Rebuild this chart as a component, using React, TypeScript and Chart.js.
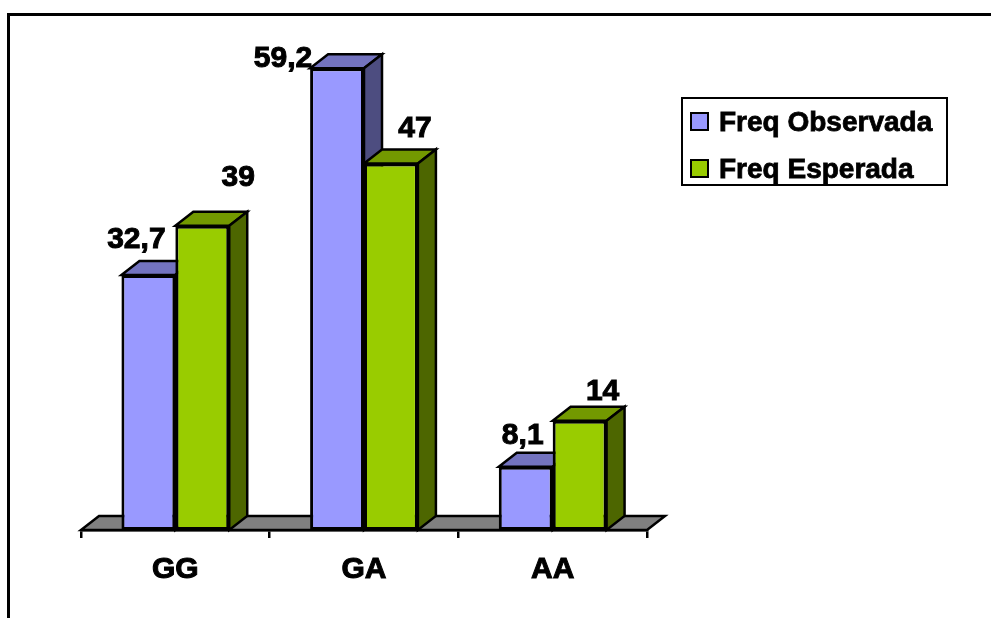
import React, { useEffect, useRef } from 'react';
import { Chart, registerables } from 'chart.js';

Chart.register(...registerables);

// ---- data ----
const categories = ['GG', 'GA', 'AA'];
const seriesNames = ['Freq Observada', 'Freq Esperada'];
const observada = [32.7, 59.2, 8.1];
const esperada = [39, 47, 14];
const yMin = 0;
const yMax = 60;

// ---- styles ----
const FONT = '"Liberation Sans", Arial, sans-serif';
const FRONT = ['#9999FF', '#99CC00'];
const TOP = ['#7373BF', '#739900'];
const SIDE = ['#4D4D80', '#4D6600'];
const FLOOR = '#808080';
const DEPTH_X = 18;
const DEPTH_Y = 14;
const EDGE = 2.5;
// label nudges relative to top-front-centre of each bar [dataset][category]
const labelOffsets = [
  [[-12, -36], [-54, -11], [-3, -32]],
  [[36, -49], [24, -36], [23, -30]],
];

const fmt = (v: number) => String(v).replace('.', ',');

const poly = (ctx: CanvasRenderingContext2D, pts: number[][], fill: string) => {
  ctx.beginPath();
  ctx.moveTo(pts[0][0], pts[0][1]);
  for (let k = 1; k < pts.length; k++) ctx.lineTo(pts[k][0], pts[k][1]);
  ctx.closePath();
  ctx.fillStyle = fill;
  ctx.fill();
  ctx.stroke();
};

const boldText = (ctx: CanvasRenderingContext2D, s: string, x: number, y: number) => {
  ctx.fillText(s, x, y);
  ctx.strokeText(s, x, y);
};

const threeD = {
  id: 'threeD',
  beforeDatasetsDraw(chart: any) {
    const ctx: CanvasRenderingContext2D = chart.ctx;
    const a = chart.chartArea;
    ctx.save();
    ctx.strokeStyle = '#000';
    ctx.lineWidth = EDGE;
    ctx.lineJoin = 'miter';
    // floor
    poly(ctx, [
      [a.left, a.bottom],
      [a.right, a.bottom],
      [a.right + DEPTH_X, a.bottom - DEPTH_Y],
      [a.left + DEPTH_X, a.bottom - DEPTH_Y],
    ], FLOOR);
    // top & side faces
    for (let i = 0; i < categories.length; i++) {
      for (let d = 0; d < chart.data.datasets.length; d++) {
        const el = chart.getDatasetMeta(d).data[i] as any;
        const l = el.x - el.width / 2;
        const r = el.x + el.width / 2;
        const t = el.y;
        const b = el.base;
        poly(ctx, [[l, t], [r, t], [r + DEPTH_X, t - DEPTH_Y], [l + DEPTH_X, t - DEPTH_Y]], TOP[d]);
        poly(ctx, [[r, t], [r + DEPTH_X, t - DEPTH_Y], [r + DEPTH_X, b - DEPTH_Y], [r, b]], SIDE[d]);
      }
    }
    ctx.restore();
  },
  afterDatasetsDraw(chart: any) {
    const ctx: CanvasRenderingContext2D = chart.ctx;
    ctx.save();
    // value labels
    ctx.fillStyle = '#000';
    ctx.strokeStyle = '#000';
    ctx.lineWidth = 1;
    ctx.font = `bold 30px ${FONT}`;
    ctx.textAlign = 'center';
    ctx.textBaseline = 'middle';
    chart.data.datasets.forEach((ds: any, d: number) => {
      chart.getDatasetMeta(d).data.forEach((el: any, i: number) => {
        const [ox, oy] = labelOffsets[d][i];
        boldText(ctx, fmt(ds.data[i]), el.x + ox, el.y + oy + 1);
      });
    });
    // legend
    ctx.lineWidth = 2;
    ctx.fillStyle = '#fff';
    ctx.fillRect(682, 98, 265, 87);
    ctx.strokeRect(682, 98, 265, 87);
    ctx.font = `bold 28px ${FONT}`;
    ctx.textAlign = 'left';
    ctx.textBaseline = 'alphabetic';
    seriesNames.forEach((name, d) => {
      const y = 113 + d * 47;
      ctx.fillStyle = FRONT[d];
      ctx.fillRect(691, y, 17, 17);
      ctx.lineWidth = 2;
      ctx.strokeRect(691, y, 17, 17);
      ctx.fillStyle = '#000';
      ctx.lineWidth = 0.8;
      boldText(ctx, name, 719, y + 18);
    });
    // outer frame (top and left visible)
    ctx.lineWidth = 3;
    ctx.beginPath();
    ctx.moveTo(8.5, chart.height);
    ctx.lineTo(8.5, 14.5);
    ctx.lineTo(chart.width, 14.5);
    ctx.stroke();
    ctx.restore();
  },
};

export default function App() {
  const ref = useRef<HTMLCanvasElement>(null);
  useEffect(() => {
    if (!ref.current) return;
    const chart = new Chart(ref.current, {
      type: 'bar',
      data: {
        labels: categories,
        datasets: [
          { label: seriesNames[0], data: observada, backgroundColor: FRONT[0] },
          { label: seriesNames[1], data: esperada, backgroundColor: FRONT[1] },
        ],
      },
      options: {
        responsive: false,
        animation: false,
        devicePixelRatio: 1,
        layout: { padding: { left: 81, right: 344, top: 62, bottom: 38 } },
        datasets: {
          bar: {
            categoryPercentage: 108 / 189,
            barPercentage: 1,
            borderColor: '#000',
            borderWidth: 3,
            borderSkipped: false,
          },
        } as any,
        plugins: { legend: { display: false }, tooltip: { enabled: false } },
        scales: {
          x: {
            offset: true,
            grid: {
              display: true,
              offset: true,
              drawOnChartArea: false,
              drawTicks: true,
              tickLength: 8,
              color: '#000',
              lineWidth: 2.5,
            },
            border: { display: true, color: '#000', width: 2.5 },
            ticks: {
              color: '#000',
              font: { family: FONT, size: 30, weight: 'bold' },
              padding: 14,
              maxRotation: 0,
              textStrokeColor: '#000',
              textStrokeWidth: 1,
            },
            afterFit: (s: any) => { s.height = 50; },
          } as any,
          y: {
            display: false,
            min: yMin,
            max: yMax,
          },
        },
      },
      plugins: [threeD],
    });
    return () => chart.destroy();
  }, []);
  return (
    <div style={{ position: 'fixed', left: 0, top: 0, width: 991, height: 618, background: '#fff' }}>
      <canvas ref={ref} width={991} height={618} style={{ display: 'block' }} />
    </div>
  );
}
